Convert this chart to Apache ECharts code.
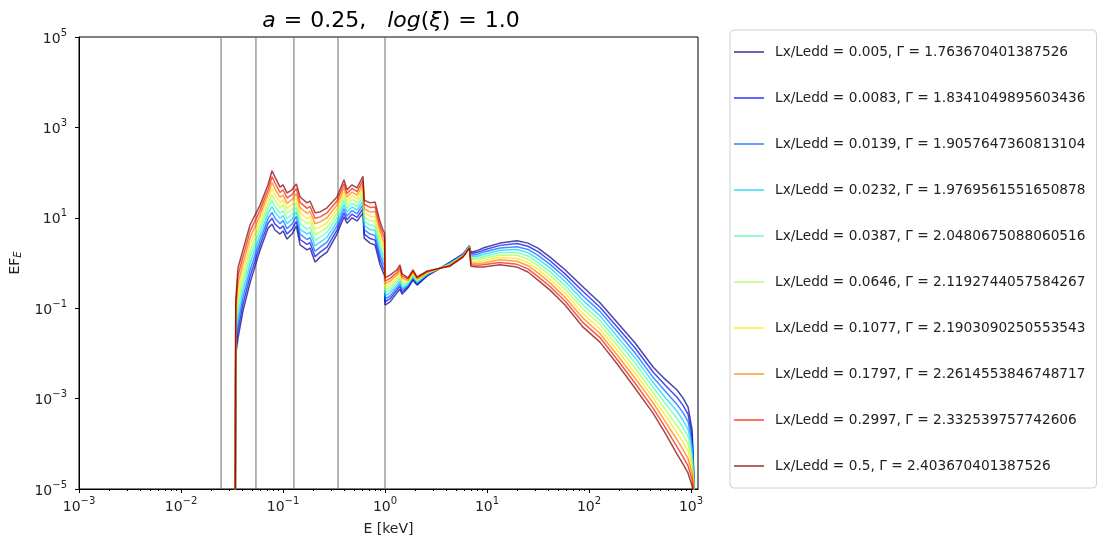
<!DOCTYPE html>
<html>
<head>
<meta charset="utf-8">
<script src="https://cdn.jsdelivr.net/npm/echarts@6/dist/echarts.min.js"></script>
<style>
  html, body { margin: 0; padding: 0; background: #fff; }
  #chart { width: 1098px; height: 544px; }
</style>
</head>
<body>
<div id="chart"></div>
<script>
// photon energy grid, keV
var energy = [
  0.0340, 0.0344, 0.0362, 0.0405, 0.0475, 0.0596, 0.0713, 0.078,
  0.0835, 0.0935, 0.1, 0.1095, 0.1225, 0.135, 0.147, 0.172, 0.184, 0.206, 0.231, 0.27,
  0.338, 0.396, 0.424, 0.475, 0.531, 0.608, 0.625, 0.713, 0.798, 0.894, 0.955, 0.99,
  1.0, 1.12, 1.31, 1.40, 1.47, 1.68, 1.88, 2.06, 2.58, 3.24, 4.34, 5.82, 6.73,
  6.95, 7.98, 9.14, 13.4, 19.7, 25.2, 31.6, 41.5,
  58.2, 87.4, 128, 188, 283, 424, 556, 729, 835, 935, 1024, 1060, 1080
];

// log10(E F_E), one array per Lx/Ledd
var lgEF0 = [
  -6, -2.04, -1.66, -1.06, -0.44, 0.29, 0.77, 0.86,
  0.73, 0.64, 0.71, 0.53, 0.64, 0.82, 0.40, 0.29, 0.33, 0.02, 0.13, 0.24,
  0.64, 1.02, 0.88, 1.00, 0.93, 1.11, 0.55, 0.44, 0.40, -0.04, -0.20, -0.27,
  -0.93, -0.86, -0.66, -0.58, -0.69, -0.55, -0.38, -0.49, -0.29, -0.15, 0.02, 0.20, 0.38,
  0.24, 0.27, 0.33, 0.44, 0.49, 0.44, 0.33, 0.13,
  -0.15, -0.53, -0.88, -1.31, -1.77, -2.30, -2.57, -2.81, -2.99, -3.19, -3.69, -4.58, -6
];
var lgEF1 = [
  -6, -1.90, -1.49, -0.91, -0.30, 0.40, 0.88, 0.99,
  0.86, 0.76, 0.82, 0.64, 0.75, 0.92, 0.52, 0.41, 0.45, 0.14, 0.24, 0.35,
  0.73, 1.11, 0.96, 1.08, 1.01, 1.20, 0.64, 0.54, 0.51, 0.07, -0.10, -0.17,
  -0.86, -0.79, -0.60, -0.52, -0.64, -0.53, -0.35, -0.47, -0.28, -0.15, 0.01, 0.19, 0.37,
  0.21, 0.23, 0.28, 0.39, 0.43, 0.37, 0.25, 0.05,
  -0.24, -0.63, -0.98, -1.41, -1.88, -2.41, -2.70, -2.97, -3.15, -3.35, -3.83, -4.64, -6
];
var lgEF2 = [
  -6, -1.77, -1.32, -0.76, -0.16, 0.51, 0.98, 1.12,
  0.99, 0.87, 0.94, 0.76, 0.86, 1.03, 0.64, 0.52, 0.56, 0.26, 0.35, 0.46,
  0.82, 1.20, 1.04, 1.16, 1.09, 1.29, 0.74, 0.64, 0.61, 0.17, 0.01, -0.06,
  -0.80, -0.73, -0.55, -0.46, -0.59, -0.50, -0.33, -0.45, -0.27, -0.15, 0.00, 0.18, 0.37,
  0.17, 0.19, 0.24, 0.33, 0.36, 0.30, 0.17, -0.03,
  -0.32, -0.73, -1.07, -1.51, -1.99, -2.53, -2.83, -3.13, -3.31, -3.51, -3.97, -4.70, -6
];
var lgEF3 = [
  -6, -1.63, -1.14, -0.61, -0.01, 0.62, 1.09, 1.25,
  1.12, 0.99, 1.05, 0.87, 0.97, 1.13, 0.75, 0.64, 0.68, 0.38, 0.46, 0.57,
  0.91, 1.29, 1.13, 1.24, 1.17, 1.38, 0.83, 0.74, 0.72, 0.28, 0.11, 0.04,
  -0.73, -0.66, -0.49, -0.40, -0.54, -0.48, -0.30, -0.43, -0.25, -0.14, -0.01, 0.18, 0.36,
  0.14, 0.15, 0.19, 0.28, 0.30, 0.23, 0.09, -0.11,
  -0.41, -0.83, -1.17, -1.62, -2.10, -2.64, -2.97, -3.28, -3.48, -3.68, -4.10, -4.76, -6
];
var lgEF4 = [
  -6, -1.50, -0.97, -0.46, 0.13, 0.73, 1.20, 1.38,
  1.25, 1.10, 1.16, 0.98, 1.08, 1.23, 0.87, 0.75, 0.79, 0.50, 0.57, 0.68,
  1.00, 1.38, 1.21, 1.32, 1.25, 1.47, 0.92, 0.84, 0.82, 0.38, 0.21, 0.14,
  -0.66, -0.60, -0.43, -0.34, -0.49, -0.45, -0.28, -0.41, -0.24, -0.14, -0.02, 0.17, 0.36,
  0.10, 0.11, 0.14, 0.23, 0.23, 0.16, 0.01, -0.19,
  -0.50, -0.93, -1.27, -1.72, -2.21, -2.75, -3.10, -3.44, -3.64, -3.84, -4.24, -4.82, -6
];
var lgEF5 = [
  -6, -1.36, -0.80, -0.31, 0.27, 0.84, 1.30, 1.52,
  1.38, 1.22, 1.28, 1.10, 1.18, 1.34, 0.99, 0.87, 0.91, 0.63, 0.69, 0.78,
  1.10, 1.48, 1.29, 1.41, 1.34, 1.56, 1.02, 0.93, 0.93, 0.49, 0.32, 0.25,
  -0.60, -0.53, -0.38, -0.28, -0.44, -0.43, -0.25, -0.39, -0.23, -0.14, -0.03, 0.16, 0.35,
  0.07, 0.07, 0.10, 0.17, 0.17, 0.08, -0.06, -0.28,
  -0.58, -1.02, -1.36, -1.82, -2.33, -2.87, -3.23, -3.60, -3.80, -4.00, -4.38, -4.89, -6
];
var lgEF6 = [
  -6, -1.23, -0.63, -0.16, 0.41, 0.95, 1.41, 1.65,
  1.51, 1.33, 1.39, 1.21, 1.29, 1.44, 1.11, 0.98, 1.02, 0.75, 0.80, 0.89,
  1.19, 1.57, 1.37, 1.49, 1.42, 1.65, 1.11, 1.03, 1.03, 0.59, 0.42, 0.35,
  -0.53, -0.47, -0.32, -0.22, -0.39, -0.40, -0.23, -0.37, -0.22, -0.14, -0.04, 0.15, 0.35,
  0.03, 0.03, 0.05, 0.12, 0.10, 0.01, -0.14, -0.36,
  -0.67, -1.12, -1.46, -1.92, -2.44, -2.98, -3.36, -3.76, -3.96, -4.16, -4.52, -4.95, -6
];
var lgEF7 = [
  -6, -1.09, -0.45, -0.01, 0.56, 1.06, 1.52, 1.78,
  1.64, 1.45, 1.50, 1.32, 1.40, 1.54, 1.22, 1.10, 1.14, 0.87, 0.91, 1.00,
  1.28, 1.66, 1.46, 1.57, 1.50, 1.74, 1.20, 1.13, 1.14, 0.70, 0.52, 0.45,
  -0.46, -0.40, -0.26, -0.16, -0.34, -0.38, -0.20, -0.35, -0.21, -0.13, -0.05, 0.15, 0.34,
  0.00, -0.01, 0.00, 0.07, 0.04, -0.06, -0.22, -0.44,
  -0.76, -1.22, -1.56, -2.03, -2.55, -3.09, -3.50, -3.91, -4.13, -4.33, -4.65, -5.01, -6
];
var lgEF8 = [
  -6, -0.96, -0.28, 0.14, 0.70, 1.17, 1.62, 1.91,
  1.77, 1.56, 1.62, 1.44, 1.51, 1.65, 1.34, 1.21, 1.25, 0.99, 1.02, 1.11,
  1.37, 1.75, 1.54, 1.65, 1.58, 1.83, 1.30, 1.23, 1.24, 0.80, 0.63, 0.56,
  -0.40, -0.34, -0.21, -0.10, -0.29, -0.35, -0.18, -0.33, -0.19, -0.13, -0.06, 0.14, 0.34,
  -0.04, -0.05, -0.04, 0.01, -0.03, -0.13, -0.30, -0.52,
  -0.84, -1.32, -1.65, -2.13, -2.66, -3.21, -3.63, -4.07, -4.29, -4.49, -4.79, -5.07, -6
];
var lgEF9 = [
  -6, -0.82, -0.11, 0.29, 0.84, 1.28, 1.73, 2.04,
  1.90, 1.68, 1.73, 1.55, 1.62, 1.75, 1.46, 1.33, 1.37, 1.11, 1.13, 1.22,
  1.46, 1.84, 1.62, 1.73, 1.66, 1.92, 1.39, 1.33, 1.35, 0.91, 0.73, 0.66,
  -0.33, -0.27, -0.15, -0.04, -0.24, -0.33, -0.15, -0.31, -0.18, -0.13, -0.07, 0.13, 0.33,
  -0.07, -0.09, -0.09, -0.04, -0.09, -0.20, -0.38, -0.60,
  -0.93, -1.42, -1.75, -2.23, -2.77, -3.32, -3.76, -4.23, -4.45, -4.65, -4.93, -5.13, -6
];

var lxLedd = ['0.005', '0.0083', '0.0139', '0.0232', '0.0387', '0.0646', '0.1077', '0.1797', '0.2997', '0.5'];
var gammas = ['1.763670401387526', '1.8341049895603436', '1.9057647360813104', '1.9769561551650878',
  '2.0480675088060516', '2.1192744057584267', '2.1903090250553543', '2.2614553846748717',
  '2.332539757742606', '2.403670401387526'];
var lineColors = ['#000080', '#0000ff', '#0063ff', '#00d4ff', '#4effa9',
  '#a9ff4e', '#ffe600', '#ff7d00', '#ff1400', '#800000'];
// vertical marker energies (keV)
var edges = [0.0247, 0.0543, 0.128, 0.346, 1.0];

var xMajor = [1e-3, 1e-2, 1e-1, 1, 10, 100, 1000];
var yMajor = [1e-5, 1e-3, 1e-1, 10, 1000, 1e5];
var xMinor = [];
for (var d = -3; d < 3; d++) {
  for (var m = 2; m <= 9; m++) xMinor.push(m * Math.pow(10, d));
}

var allLg = [lgEF0, lgEF1, lgEF2, lgEF3, lgEF4, lgEF5, lgEF6, lgEF7, lgEF8, lgEF9];

var FONT = 'DejaVu Sans';
var X_MIN = 0.001, X_MAX = 1170, Y_MIN = 1e-5, Y_MAX = 1e5;

function powLabel(v) {
  var e = Math.round(Math.log10(v));
  var s = String(e).replace('-', '\u2212');
  return '{b|10}{s|' + s + '}';
}
var powRich = {
  b: { fontSize: 14, fontFamily: FONT, color: '#222', lineHeight: 18, verticalAlign: 'bottom' },
  s: { fontSize: 10, fontFamily: FONT, color: '#222', lineHeight: 18, verticalAlign: 'top', padding: [0, 0, 6, 0] }
};

var names = [];
var series = [];
for (var i = 0; i < 10; i++) {
  var nm = 'Lx/Ledd = ' + lxLedd[i] + ', \u0393 = ' + gammas[i];
  names.push(nm);
  var lg = allLg[i];
  series.push({
    name: nm,
    type: 'line',
    symbol: 'none',
    data: energy.map(function (e, k) { return [e, Math.pow(10, lg[k])]; }),
    lineStyle: { color: lineColors[i], width: 1.5, opacity: 0.72 },
    itemStyle: { color: lineColors[i], opacity: 0.6 },
    clip: true,
    z: 3
  });
}
// thin grey verticals, drawn as plain two-point lines on the second x axis
edges.forEach(function (e) {
  series.push({
    name: 'edge',
    type: 'line',
    xAxisIndex: 1,
    symbol: 'none',
    silent: true,
    data: [[e, Y_MIN], [e, Y_MAX]],
    lineStyle: { color: '#6e6e6e', width: 1 },
    z: 2
  });
});

var myChart = echarts.init(document.getElementById('chart'), null, { renderer: 'canvas' });

var option = {
  animation: false,
  backgroundColor: '#fff',
  title: {
    text: '{i|a}{e|=}0.25,   {i|log}({i|\u03BE}){e|=}1.0',
    left: 386,
    textAlign: 'center',
    top: 5,
    textStyle: {
      fontSize: 22,
      fontWeight: 'normal',
      fontFamily: FONT,
      color: '#000',
      rich: {
        i: { fontSize: 22, fontStyle: 'italic', fontFamily: FONT, color: '#000' },
        e: { fontSize: 22, fontFamily: FONT, color: '#000', padding: [0, 8, 0, 8] }
      }
    }
  },
  grid: {
    left: 79, top: 37, width: 619, height: 452,
    show: true, borderColor: '#000', borderWidth: 1, backgroundColor: 'transparent'
  },
  legend: {
    data: names,
    orient: 'vertical',
    left: 730,
    top: 30,
    icon: 'rect',
    itemGap: 32,
    itemWidth: 30,
    itemHeight: 2,
    padding: [15, 11, 15, 4],
    borderColor: '#d0d0d0',
    borderWidth: 1,
    borderRadius: 4,
    textStyle: { fontSize: 13.7, fontFamily: FONT, color: '#222', padding: [0, 0, 0, 6] }
  },
  xAxis: [{
    type: 'log',
    logBase: 10,
    min: X_MIN,
    max: X_MAX,
    name: 'E [keV]',
    nameLocation: 'middle',
    nameGap: 33,
    nameTextStyle: { fontSize: 14, fontFamily: FONT, color: '#222' },
    axisLine: { show: true, onZero: false, lineStyle: { color: '#000', width: 1 } },
    axisTick: { show: true, length: 4, lineStyle: { color: '#000' }, customValues: xMajor },
    axisLabel: { customValues: xMajor, margin: 7, formatter: powLabel, rich: powRich },
    splitLine: { show: false },
    minorTick: { show: false }
  }, {
    type: 'log',
    logBase: 10,
    min: X_MIN,
    max: X_MAX,
    position: 'bottom',
    axisLine: { show: false, onZero: false },
    axisTick: { show: true, length: 2, lineStyle: { color: '#000' }, customValues: xMinor },
    axisLabel: { show: false },
    splitLine: { show: false }
  }],
  yAxis: {
    type: 'log',
    logBase: 10,
    min: Y_MIN,
    max: Y_MAX,
    name: '{n|EF}{s|E}',
    nameLocation: 'middle',
    nameRotate: 90,
    nameGap: 55,
    nameTextStyle: {
      fontSize: 14, fontFamily: FONT, color: '#222',
      rich: {
        n: { fontSize: 14, fontFamily: FONT, color: '#222' },
        s: { fontSize: 10, fontFamily: FONT, fontStyle: 'italic', color: '#222', padding: [7, 0, 0, 0] }
      }
    },
    axisLine: { show: true, onZero: false, lineStyle: { color: '#000', width: 1 } },
    axisTick: { show: true, length: 4, lineStyle: { color: '#000' }, customValues: yMajor },
    axisLabel: { customValues: yMajor, margin: 12, formatter: powLabel, rich: powRich },
    splitLine: { show: false },
    minorTick: { show: false }
  },
  series: series
};

myChart.setOption(option);
</script>
</body>
</html>
